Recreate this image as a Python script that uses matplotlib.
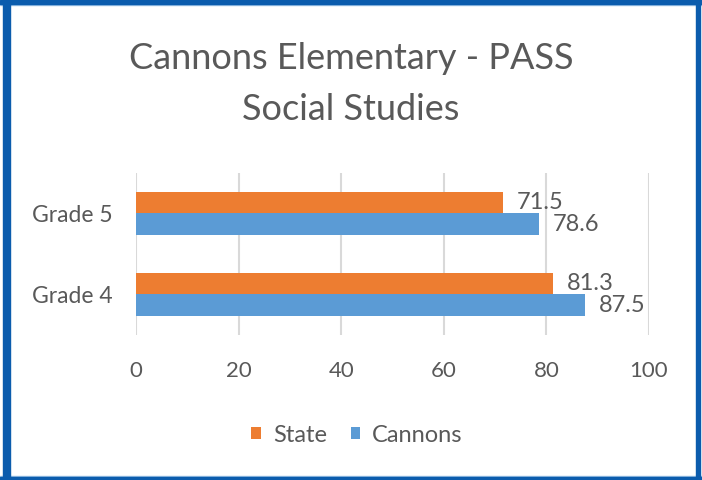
import matplotlib
matplotlib.use("Agg")
import matplotlib.pyplot as plt
from matplotlib.patches import Rectangle
import numpy as np

categories = ["Grade 4", "Grade 5"]
state = [81.3, 71.5]
cannons = [87.5, 78.6]
series_names = ["State", "Cannons"]
xticks = [0, 20, 40, 60, 80, 100]
title_lines = ["Cannons Elementary - PASS", "Social Studies"]

ORANGE = "#ED7D31"
BLUE = "#5B9BD5"
TEXT = "#595959"
GRID = "#D9D9D9"
FONT = "Lato"

plt.rcParams['font.family'] = [FONT, 'DejaVu Sans']

fig = plt.figure(figsize=(7.02, 4.8), dpi=100)
W, H = 702, 480
ax = fig.add_axes([136 / W, 1 - 335 / H, (649 - 136) / W, (335 - 173) / H])

y = np.arange(len(categories))
h = 0.26
b_state = ax.barh(y + h / 2, state, height=h, color=ORANGE, label=series_names[0])
b_can = ax.barh(y - h / 2, cannons, height=h, color=BLUE, label=series_names[1])

ax.set_xlim(0, 100)
ax.set_ylim(-0.5, len(categories) - 0.5)
ax.set_xticks(xticks)
ax.set_xticklabels([str(t) for t in xticks], fontsize=16, color=TEXT)
ax.set_yticks(y)
ax.set_yticklabels(categories, fontsize=16.5, color=TEXT)
ax.tick_params(axis='both', length=0)
ax.tick_params(axis='x', pad=19)
ax.tick_params(axis='y', pad=17)
ax.grid(axis='x', color=GRID, linewidth=1.5)
ax.set_axisbelow(True)
for s in ax.spines.values():
    s.set_visible(False)

for bars, vals in ((b_state, state), (b_can, cannons)):
    for rect, v in zip(bars, vals):
        ax.annotate(f"{v}", (v, rect.get_y() + rect.get_height() / 2),
                    xytext=(10, 0), textcoords="offset points",
                    va="center", ha="left", fontsize=17, color=TEXT)

fig.text(0.5, 1 - 69 / H, title_lines[0], ha="center", va="baseline", fontsize=26, color=TEXT)
fig.text(0.5, 1 - 120 / H, title_lines[1], ha="center", va="baseline", fontsize=26, color=TEXT)

handles = [b_state, b_can]
leg = fig.legend(handles, series_names, loc="center", bbox_to_anchor=(357 / W, 1 - 435 / H),
                 ncol=2, frameon=False, fontsize=17, handlelength=0.42, handleheight=0.42,
                 handletextpad=0.5, columnspacing=1.0, borderpad=0)
for t in leg.get_texts():
    t.set_color(TEXT)

# border
DARK = "#0B5CAD"
LIGHT = "#9DC3E6"
fig.patches.append(Rectangle((3 / W, 0), 7 / W, 1, transform=fig.transFigure, color=DARK, zorder=10))
fig.patches.append(Rectangle((0, 1 - 3.5 / H), 1, 3.5 / H, transform=fig.transFigure, color=DARK, zorder=10))
fig.patches.append(Rectangle((0, 1 - 5 / H), 1, 1.5 / H, transform=fig.transFigure, color=LIGHT, zorder=9))
fig.patches.append(Rectangle((696 / W, 0), 4 / W, 1, transform=fig.transFigure, color=DARK, zorder=10))
fig.patches.append(Rectangle((0, 0), 1, 3 / H, transform=fig.transFigure, color=DARK, zorder=10))
fig.patches.append(Rectangle((0, 3 / H), 1, 1.2 / H, transform=fig.transFigure, color=LIGHT, zorder=9))

fig.savefig("out.png", dpi=100)
